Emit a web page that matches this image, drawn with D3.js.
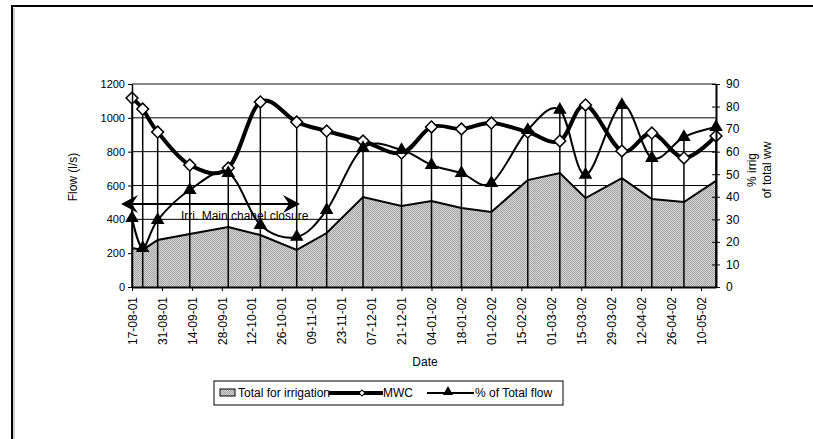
<!DOCTYPE html>
<html>
<head>
<meta charset="utf-8">
<script src="https://cdn.jsdelivr.net/npm/d3@7"></script>
<style>
body { margin: 0; background: #fff; }
text { font-family: Arial, "Liberation Sans", sans-serif; font-size: 11px; fill: #000; }
</style>
</head>
<body>
<script>
// sampling dates (dd-mm-yy)
var dates = ["17-08-01", "22-08-01", "29-08-01", "13-09-01", "01-10-01", "16-10-01", "02-11-01",
    "16-11-01", "03-12-01", "21-12-01", "04-01-02", "18-01-02", "01-02-02", "18-02-02",
    "05-03-02", "17-03-02", "03-04-02", "17-04-02", "02-05-02", "17-05-02"];
// Total for irrigation (l/s)
var irrigation = [230, 219, 278, 313, 355, 307, 219, 319, 532, 479, 508, 467, 443, 632, 674, 526, 644, 520, 502, 627];
// MWC (l/s)
var mwc = [1117, 1052, 916, 721, 703, 1094, 975, 922, 863, 792, 946, 934, 969, 916, 863, 1076, 804, 910, 763, 893];
// % of Total flow (right axis)
var pctTotal = [30.6, 17.3, 29.7, 43, 50.5, 27.5, 22.2, 34.1, 61.6, 60.7, 54.1, 50.5, 46.1, 69.6, 78.5, 49.7, 80.7, 57.2, 66.5, 70.9];

var leftTicks = [0, 200, 400, 600, 800, 1000, 1200];
var rightTicks = [0, 10, 20, 30, 40, 50, 60, 70, 80, 90];

var parse = d3.timeParse("%d-%m-%y");
var fmt = d3.timeFormat("%d-%m-%y");
var dateVals = dates.map(parse);

var width = 813, height = 439;
var plotL = 132, plotR = 716, plotT = 84, plotB = 287;

var svg = d3.select("body")
    .append("svg")
    .attr("width", width)
    .attr("height", height);

// chart area border
svg.append("rect")
    .attr("x", 12).attr("y", 6)
    .attr("width", 900).attr("height", 500)
    .attr("fill", "#fff")
    .attr("stroke", "#000")
    .attr("stroke-width", 2);
svg.append("line")
    .attr("x1", 14).attr("x2", 14).attr("y1", 8).attr("y2", 439)
    .attr("stroke", "#999").attr("stroke-width", 1);

// fill pattern for the area
var defs = svg.append("defs");
var pat = defs.append("pattern")
    .attr("id", "dots")
    .attr("width", 2).attr("height", 2)
    .attr("patternUnits", "userSpaceOnUse");
pat.append("rect").attr("width", 2).attr("height", 2).attr("fill", "#d8d8d8");
pat.append("rect").attr("width", 1).attr("height", 1).attr("fill", "#a0a0a0");
pat.append("rect").attr("x", 1).attr("y", 1).attr("width", 1).attr("height", 1).attr("fill", "#a0a0a0");

// scales
var x = d3.scaleTime()
    .domain([dateVals[0], dateVals[dateVals.length - 1]])
    .range([plotL, plotR]);
var y = d3.scaleLinear().domain([0, 1200]).range([plotB, plotT]);
var y2 = d3.scaleLinear().domain([0, 90]).range([plotB, plotT]);

var xTicks = d3.range(0, 267, 14).map(function(d) { return d3.timeDay.offset(dateVals[0], d); });

// gridlines
svg.append("g")
    .selectAll("line")
    .data(leftTicks.slice(1, -1))
    .enter()
    .append("line")
    .attr("x1", plotL).attr("x2", plotR)
    .attr("y1", function(d) { return y(d); })
    .attr("y2", function(d) { return y(d); })
    .attr("stroke", "#000")
    .attr("stroke-width", 1);
svg.append("line")
    .attr("x1", plotL).attr("x2", plotR)
    .attr("y1", plotT).attr("y2", plotT)
    .attr("stroke", "#888").attr("stroke-width", 2);

// area: total for irrigation
var area = d3.area()
    .x(function(d, i) { return x(dateVals[i]); })
    .y0(plotB)
    .y1(function(d) { return y(d); });
svg.append("path")
    .datum(irrigation)
    .attr("d", area)
    .attr("fill", "url(#dots)");
svg.append("path")
    .datum(irrigation)
    .attr("d", d3.line().x(function(d, i) { return x(dateVals[i]); }).y(function(d) { return y(d); }))
    .attr("fill", "none")
    .attr("stroke", "#000")
    .attr("stroke-width", 2);

// annotation text (under the drop lines)
svg.append("text")
    .attr("x", 181).attr("y", 220)
    .style("font-size", "12px")
    .text("Irri. Main chanel closure");

// drop lines
svg.append("g")
    .selectAll("line")
    .data(dateVals)
    .enter()
    .append("line")
    .attr("x1", function(d) { return x(d); })
    .attr("x2", function(d) { return x(d); })
    .attr("y1", plotB)
    .attr("y2", function(d, i) { return Math.min(y(mwc[i]), y2(pctTotal[i])); })
    .attr("stroke", "#000")
    .attr("stroke-width", 1.5);

// annotation arrow
function arrowHead(tipX, tipY, dir) {
    var L = 17, H = 9, notch = 6;
    var p = [[tipX, tipY], [tipX - dir * L, tipY - H], [tipX - dir * (L - notch), tipY], [tipX - dir * L, tipY + H]];
    svg.append("path")
        .attr("d", "M" + p.join("L") + "Z")
        .attr("fill", "#000");
}
svg.append("line")
    .attr("x1", 125).attr("x2", 296)
    .attr("y1", 204).attr("y2", 204)
    .attr("stroke", "#000").attr("stroke-width", 2);
arrowHead(121, 204, -1);
arrowHead(300, 204, 1);

// % of total flow line
var smooth = d3.curveCardinal.tension(0);
svg.append("path")
    .datum(pctTotal)
    .attr("d", d3.line().curve(smooth)
        .x(function(d, i) { return x(dateVals[i]); })
        .y(function(d) { return y2(d); }))
    .attr("fill", "none")
    .attr("stroke", "#000")
    .attr("stroke-width", 2);

// MWC line
svg.append("path")
    .datum(mwc)
    .attr("d", d3.line().curve(smooth)
        .x(function(d, i) { return x(dateVals[i]); })
        .y(function(d) { return y(d); }))
    .attr("fill", "none")
    .attr("stroke", "#000")
    .attr("stroke-width", 4);

var diamond = d3.symbol().type(d3.symbolSquare).size(70);
svg.append("g")
    .selectAll("path")
    .data(mwc)
    .enter()
    .append("path")
    .attr("d", diamond)
    .attr("transform", function(d, i) { return "translate(" + x(dateVals[i]) + "," + y(d) + ") rotate(45)"; })
    .attr("fill", "#fff")
    .attr("stroke", "#000")
    .attr("stroke-width", 1.5);

var tri = d3.symbol().type(d3.symbolTriangle).size(80);
svg.append("g")
    .selectAll("path")
    .data(pctTotal)
    .enter()
    .append("path")
    .attr("d", tri)
    .attr("transform", function(d, i) { return "translate(" + x(dateVals[i]) + "," + y2(d) + ")"; })
    .attr("fill", "#000");

// x axis
var gx = svg.append("g")
    .attr("transform", "translate(0," + plotB + ")")
    .call(d3.axisBottom(x).tickValues(xTicks).tickFormat(fmt).tickSize(4).tickSizeOuter(0));
gx.select(".domain").attr("stroke", "#000").attr("stroke-width", 2);
gx.selectAll(".tick line").attr("stroke", "#000");
gx.attr("font-family", null).attr("font-size", null);
gx.selectAll("text")
    .attr("transform", "rotate(-90)")
    .attr("x", -10)
    .attr("y", 0)
    .attr("dy", "0.35em")
    .attr("text-anchor", "end")
    .style("font-size", "12px");

// left axis
var gy = svg.append("g")
    .attr("transform", "translate(" + plotL + ",0)")
    .call(d3.axisLeft(y).tickValues(leftTicks).tickFormat(d3.format("d")).tickSize(4).tickSizeOuter(0));
gy.select(".domain").attr("stroke", "#000").attr("stroke-width", 1.5);
gy.attr("font-family", null).attr("font-size", null);
gy.selectAll("text").style("font-size", "11px");

// right axis
var gy2 = svg.append("g")
    .attr("transform", "translate(" + plotR + ",0)")
    .call(d3.axisRight(y2).tickValues(rightTicks).tickSize(4).tickSizeOuter(0).tickPadding(6));
gy2.select(".domain").attr("stroke", "#000").attr("stroke-width", 2);
gy2.selectAll(".tick line").attr("x1", -4).attr("stroke", "#000");
gy2.attr("font-family", null).attr("font-size", null);
gy2.selectAll("text").style("font-size", "12px");

// axis titles
svg.append("text")
    .attr("transform", "translate(77,177) rotate(-90)")
    .attr("text-anchor", "middle")
    .style("font-size", "12px")
    .text("Flow (l/s)");
svg.append("text")
    .attr("transform", "translate(756,170) rotate(-90)")
    .attr("text-anchor", "middle")
    .style("font-size", "12px")
    .text("% irrig");
svg.append("text")
    .attr("transform", "translate(771,170) rotate(-90)")
    .attr("text-anchor", "middle")
    .style("font-size", "12px")
    .text("of total ww");
svg.append("text")
    .attr("x", 425).attr("y", 366)
    .attr("text-anchor", "middle")
    .style("font-size", "12px")
    .text("Date");

// legend
var lg = svg.append("g");
lg.append("rect")
    .attr("x", 214).attr("y", 381)
    .attr("width", 349).attr("height", 24)
    .attr("fill", "#fff")
    .attr("stroke", "#000");
lg.append("rect")
    .attr("x", 220).attr("y", 389)
    .attr("width", 15).attr("height", 7)
    .attr("fill", "url(#dots)")
    .attr("stroke", "#000");
lg.append("text").attr("x", 238).attr("y", 397).style("font-size", "12px").text("Total for irrigation");
lg.append("line")
    .attr("x1", 329).attr("x2", 383).attr("y1", 393).attr("y2", 393)
    .attr("stroke", "#000").attr("stroke-width", 4);
lg.append("path")
    .attr("d", d3.symbol().type(d3.symbolSquare).size(18))
    .attr("transform", "translate(362,393) rotate(45)")
    .attr("fill", "#fff").attr("stroke", "#000");
lg.append("text").attr("x", 383).attr("y", 397).style("font-size", "12px").text("MWC");
lg.append("line")
    .attr("x1", 427).attr("x2", 474).attr("y1", 393).attr("y2", 393)
    .attr("stroke", "#000").attr("stroke-width", 2);
lg.append("path")
    .attr("d", d3.symbol().type(d3.symbolTriangle).size(45))
    .attr("transform", "translate(448,392)")
    .attr("fill", "#000");
lg.append("text").attr("x", 475).attr("y", 397).style("font-size", "12px").text("% of Total flow");
</script>
</body>
</html>
